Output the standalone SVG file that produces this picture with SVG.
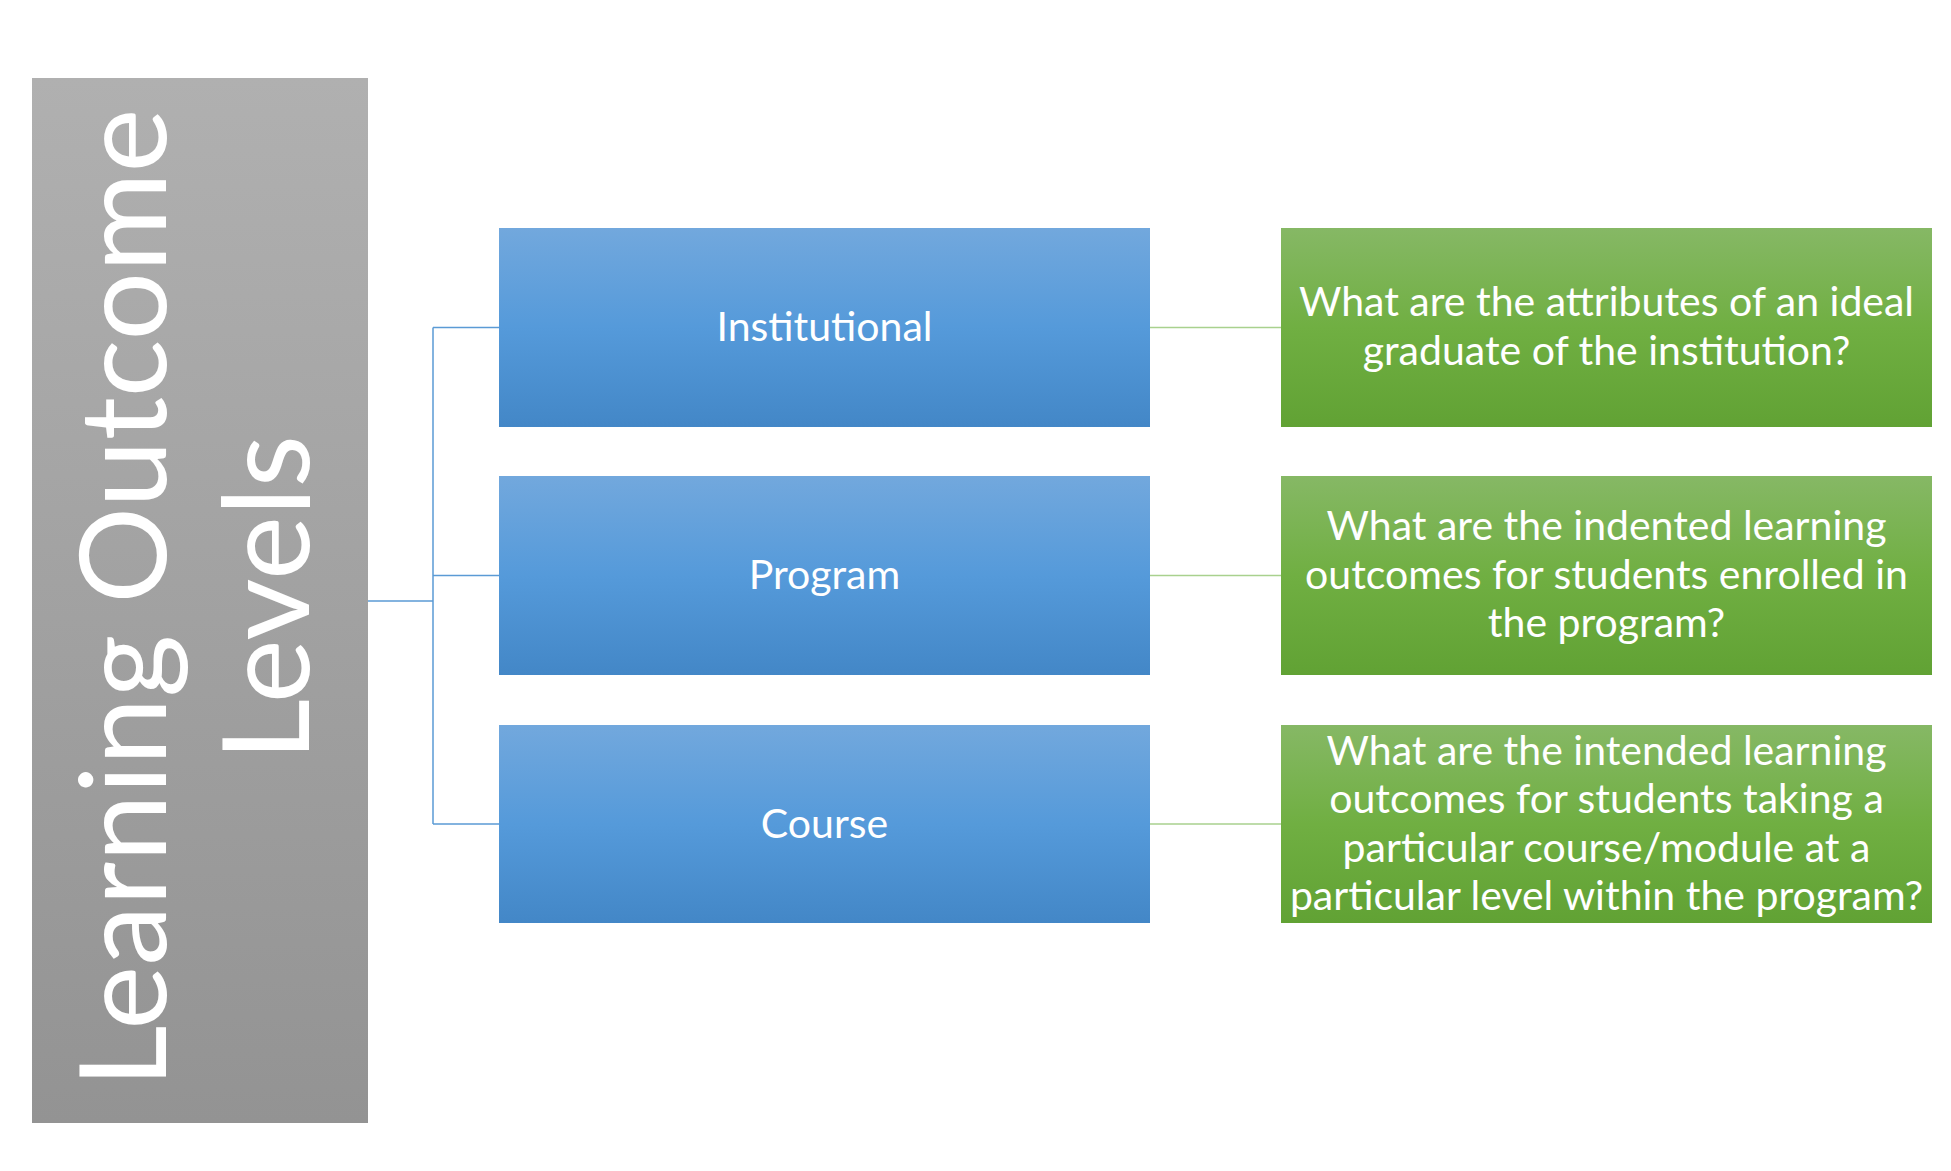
<svg xmlns="http://www.w3.org/2000/svg" width="1951" height="1171" viewBox="0 0 1951 1171">
<defs>
<linearGradient id="gGray" x1="0" y1="0" x2="0" y2="1"><stop offset="0" stop-color="#b0b0b0"/><stop offset="1" stop-color="#939393"/></linearGradient>
<linearGradient id="gBlue" x1="0" y1="0" x2="0" y2="1"><stop offset="0" stop-color="#72a8dd"/><stop offset="0.5" stop-color="#559ada"/><stop offset="1" stop-color="#4387c7"/></linearGradient>
<linearGradient id="gGreen" x1="0" y1="0" x2="0" y2="1"><stop offset="0" stop-color="#86b865"/><stop offset="0.5" stop-color="#70af42"/><stop offset="1" stop-color="#61a234"/></linearGradient>
</defs>
<style>
text{font-family:Lato,"Liberation Sans",sans-serif;fill:#ffffff}
.big{font-size:121px}
.mid{font-size:41px}
.sm{font-size:41px}
.bl{fill:none;stroke:#5b9bd5;stroke-width:1.5}
.gl{fill:none;stroke:#a9d18e;stroke-width:1.5}
</style>
<rect width="1951" height="1171" fill="#ffffff"/>
<g id="connectors">
<path class="bl" d="M368,601 H433 M433,327.5 V824 M433,327.5 H499 M433,575.5 H499 M433,824 H499"/>
<path class="gl" d="M1150,327.5 H1281 M1150,575.5 H1281 M1150,824 H1281"/>
</g>
<g id="root">
<rect x="32" y="78" width="336" height="1045" fill="url(#gGray)"/>
<text class="big" text-anchor="middle" transform="translate(166,598) rotate(-90)">Learning Outcome</text>
<text class="big" text-anchor="middle" transform="translate(309,598) rotate(-90)">Levels</text>
</g>
<g id="institutional">
<rect x="499" y="228" width="651" height="199" fill="url(#gBlue)"/>
<text class="mid" x="824.5" y="341" text-anchor="middle">Institutional</text>
</g>
<g id="program">
<rect x="499" y="476" width="651" height="199" fill="url(#gBlue)"/>
<text class="mid" x="824.5" y="589" text-anchor="middle">Program</text>
</g>
<g id="course">
<rect x="499" y="725" width="651" height="198" fill="url(#gBlue)"/>
<text class="mid" x="824.5" y="838" text-anchor="middle">Course</text>
</g>
<g id="q-institutional">
<rect x="1281" y="228" width="651" height="199" fill="url(#gGreen)"/>
<text class="sm" text-anchor="middle"><tspan x="1606.5" y="316">What are the attributes of an ideal</tspan><tspan x="1606.5" y="365">graduate of the institution?</tspan></text>
</g>
<g id="q-program">
<rect x="1281" y="476" width="651" height="199" fill="url(#gGreen)"/>
<text class="sm" text-anchor="middle"><tspan x="1606.5" y="540">What are the indented learning</tspan><tspan x="1606.5" y="589">outcomes for students enrolled in</tspan><tspan x="1606.5" y="637">the program?</tspan></text>
</g>
<g id="q-course">
<rect x="1281" y="725" width="651" height="198" fill="url(#gGreen)"/>
<text class="sm" text-anchor="middle"><tspan x="1606.5" y="765">What are the intended learning</tspan><tspan x="1606.5" y="813">outcomes for students taking a</tspan><tspan x="1606.5" y="862">particular course/module at a</tspan><tspan x="1606.5" y="910">particular level within the program?</tspan></text>
</g>
</svg>
